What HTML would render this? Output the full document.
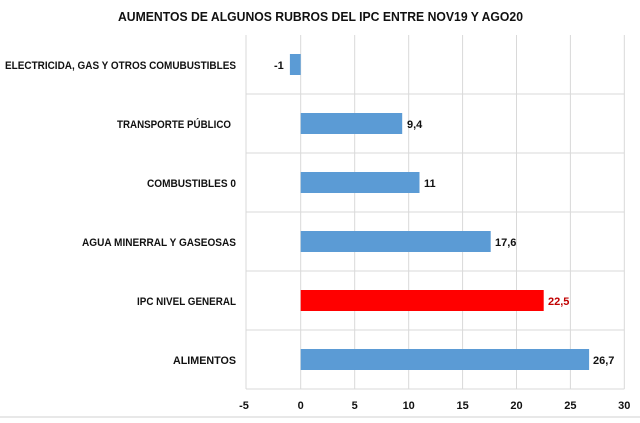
<!DOCTYPE html><html><head><style>body{margin:0;background:#fff}</style></head><body>
<svg width="640" height="418" xmlns="http://www.w3.org/2000/svg" font-family="Liberation Sans, sans-serif" font-weight="bold">
<rect width="640" height="418" fill="#fff"/>
<text x="118" y="21" font-size="13" textLength="405" lengthAdjust="spacingAndGlyphs" fill="#111">AUMENTOS  DE ALGUNOS  RUBROS  DEL IPC ENTRE NOV19  Y AGO20</text>
<g stroke="#d9d9d9" stroke-width="1">
<line x1="246" y1="35" x2="246" y2="389"/><line x1="300.7" y1="35" x2="300.7" y2="389"/>
<line x1="354.7" y1="35" x2="354.7" y2="389"/><line x1="408.7" y1="35" x2="408.7" y2="389"/>
<line x1="462.6" y1="35" x2="462.6" y2="389"/><line x1="516.5" y1="35" x2="516.5" y2="389"/>
<line x1="570.4" y1="35" x2="570.4" y2="389"/><line x1="624.3" y1="35" x2="624.3" y2="389"/>
<line x1="246" y1="94" x2="624.3" y2="94"/><line x1="246" y1="153" x2="624.3" y2="153"/>
<line x1="246" y1="212" x2="624.3" y2="212"/><line x1="246" y1="271" x2="624.3" y2="271"/>
<line x1="246" y1="330" x2="624.3" y2="330"/><line x1="246" y1="389" x2="624.3" y2="389"/>
</g>
<g fill="#5b9bd5">
<rect x="289.9" y="54" width="10.8" height="21"/>
<rect x="300.7" y="113" width="101.5" height="21"/>
<rect x="300.7" y="172" width="118.8" height="21"/>
<rect x="300.7" y="231" width="190" height="21"/>
<rect x="300.7" y="349" width="288.4" height="21"/>
</g>
<rect x="300.7" y="290" width="243" height="21" fill="#ff0000"/>
<g font-size="11" fill="#111" lengthAdjust="spacingAndGlyphs">
<text x="5" y="69" textLength="231" lengthAdjust="spacingAndGlyphs">ELECTRICIDA, GAS Y OTROS COMUBUSTIBLES</text>
<text x="117" y="128" textLength="114" lengthAdjust="spacingAndGlyphs">TRANSPORTE PÚBLICO</text>
<text x="147" y="187" textLength="89" lengthAdjust="spacingAndGlyphs">COMBUSTIBLES 0</text>
<text x="82" y="246" textLength="154" lengthAdjust="spacingAndGlyphs">AGUA MINERRAL Y GASEOSAS</text>
<text x="137" y="305" textLength="99" lengthAdjust="spacingAndGlyphs">IPC NIVEL GENERAL</text>
<text x="173" y="364" textLength="63" lengthAdjust="spacingAndGlyphs">ALIMENTOS</text>
</g>
<g font-size="11" fill="#111">
<text x="274" y="69">-1</text>
<text x="407" y="128">9,4</text>
<text x="424" y="187">11</text>
<text x="495" y="246">17,6</text>
<text x="548" y="305" fill="#c00000">22,5</text>
<text x="593" y="364">26,7</text>
</g>
<g font-size="11" fill="#111" text-anchor="middle">
<text x="244" y="409">-5</text><text x="300.7" y="409">0</text><text x="354.7" y="409">5</text>
<text x="408.7" y="409">10</text><text x="462.6" y="409">15</text><text x="516.5" y="409">20</text>
<text x="570.4" y="409">25</text><text x="624.3" y="409">30</text>
</g>
<line x1="0" y1="417" x2="640" y2="417" stroke="#d0d0d0"/>
</svg>
</body></html>
